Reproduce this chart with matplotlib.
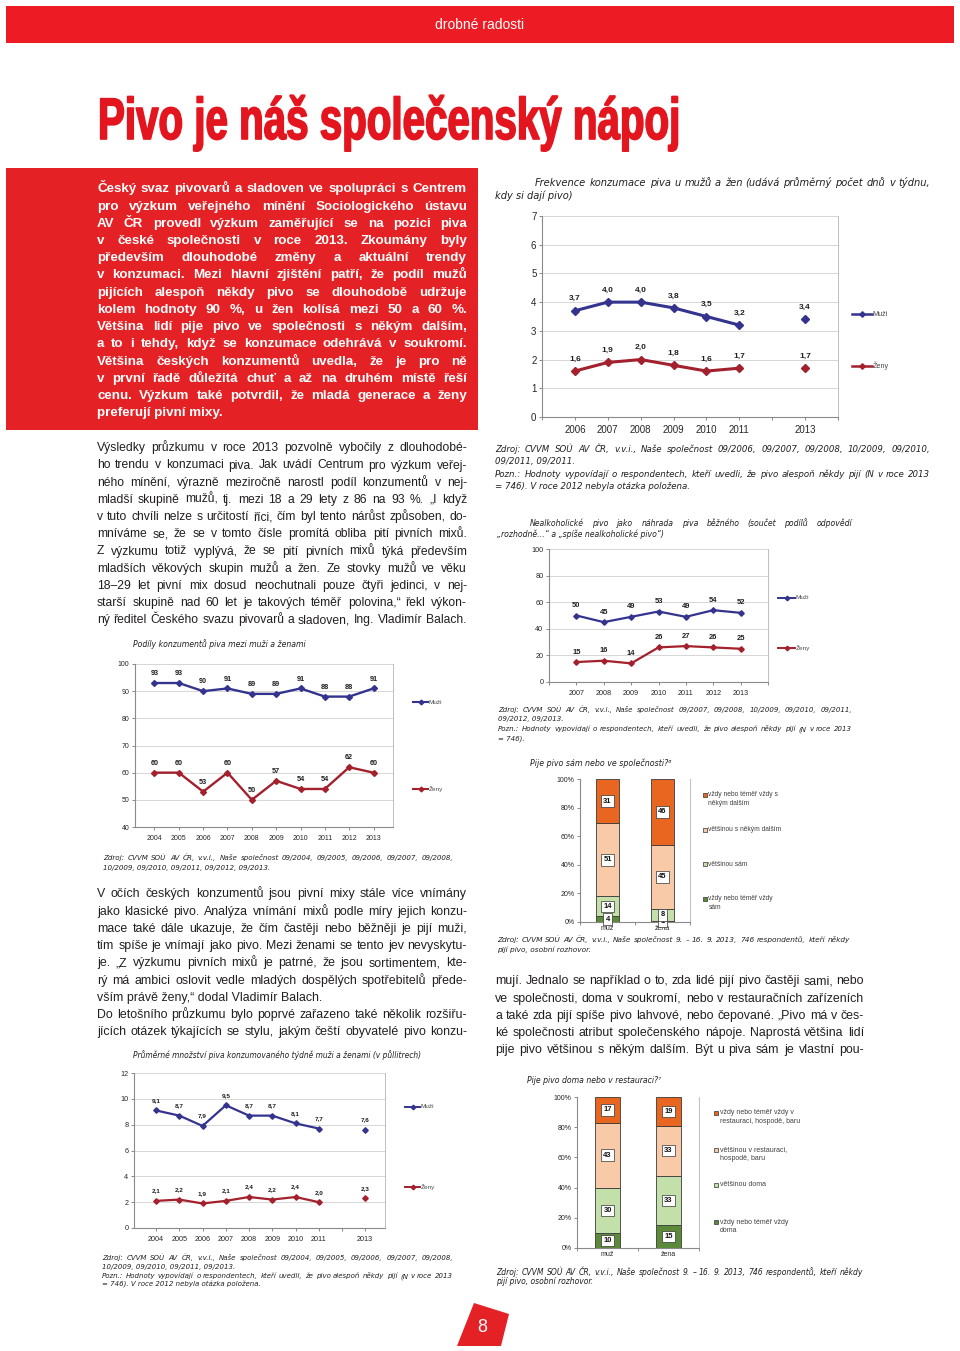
import numpy as np
import matplotlib
matplotlib.use('Agg')
import matplotlib.pyplot as plt
import matplotlib.patheffects as pe
from matplotlib.transforms import Affine2D
from matplotlib.lines import Line2D
from matplotlib.patches import Rectangle, Polygon
from matplotlib.font_manager import FontProperties, fontManager

# ---------------- DATA ----------------
freq_years = [2006, 2007, 2008, 2009, 2010, 2011, 2013]
freq_men = [3.7, 4.0, 4.0, 3.8, 3.5, 3.2, 3.4]
freq_women = [1.6, 1.9, 2.0, 1.8, 1.6, 1.7, 1.7]

share_years = [2004, 2005, 2006, 2007, 2008, 2009, 2010, 2011, 2012, 2013]
share_men = [93, 93, 90, 91, 89, 89, 91, 88, 88, 91]
share_women = [60, 60, 53, 60, 50, 57, 54, 54, 62, 60]

nonalc_years = [2007, 2008, 2009, 2010, 2011, 2012, 2013]
nonalc_men = [50, 45, 49, 53, 49, 54, 52]
nonalc_women = [15, 16, 14, 26, 27, 26, 25]

amount_years = [2004, 2005, 2006, 2007, 2008, 2009, 2010, 2011, 2013]
amount_men = [9.1, 8.7, 7.9, 9.5, 8.7, 8.7, 8.1, 7.7, 7.6]
amount_women = [2.1, 2.2, 1.9, 2.1, 2.4, 2.2, 2.4, 2.0, 2.3]

series_names = ['Muži', 'Ženy']
gender_labels = ['muž', 'žena']

company_names = ['vždy nebo téměř vždy\nsám', 'většinou sám',
                 'většinou s někým dalším', 'vždy nebo téměř vždy s\nněkým dalším']
company_always_alone = [4, 1]
company_mostly_alone = [14, 8]
company_mostly_others = [51, 45]
company_always_others = [31, 46]

place_names = ['vždy nebo téměř vždy\ndoma', 'většinou doma',
               'většinou v restauraci,\nhospodě, baru',
               'vždy nebo téměř vždy v\nrestauraci, hospodě, baru']
place_always_home = [10, 15]
place_mostly_home = [30, 33]
place_mostly_pub = [43, 33]
place_always_pub = [17, 19]

# ---------------- STYLE ----------------
W, H = 960, 1351
avail = {f.name for f in fontManager.ttflist}


def pick(*names):
    for n in names:
        if n in avail:
            return n
    return 'DejaVu Sans'


SANS = pick('Liberation Sans', 'Arimo', 'DejaVu Sans')
BODY = SANS
HEAD = pick('Liberation Sans Narrow', 'Liberation Sans')
VERD = 'DejaVu Sans'
plt.rcParams['font.family'] = [SANS, 'DejaVu Sans']

RED = '#E42125'
INK = '#231F20'
C_MEN = '#34348F'
C_WOMEN = '#A3202D'
AXC = '#8A8A8A'
GRID = '#D6D6D6'
ORANGE = '#E8661F'
PEACH = '#F9CAA7'
LGREEN = '#C3DFAA'
DGREEN = '#5B8B39'

fig = plt.figure(figsize=(W / 100, H / 100), dpi=100)
fig.patch.set_facecolor('white')
renderer = fig.canvas.get_renderer()


def T(x, y, s, **kw):
    return fig.text(x / W, 1 - y / H, s, **kw)


def measure(s, fp):
    w, h, d = renderer.get_text_width_height_descent(s, fp, ismath=False)
    return w


def block(lines, x0, x1, y0, dy, family, size, weight='normal', style='normal',
          color=INK, just=None, starts=None):
    fp = FontProperties(family=family, size=size, weight=weight, style=style)
    if just is None:
        just = [True] * (len(lines) - 1) + [False]
    if starts is None:
        starts = [x0] * len(lines)
    jw = [measure(l, fp) / (x1 - s) for l, j, s in zip(lines, just, starts) if j]
    if jw and max(jw) > 0.99:
        fp.set_size(size * 0.99 / max(jw))
    for i, (line, j, xs) in enumerate(zip(lines, just, starts)):
        y = y0 + i * dy
        words = [w for w in line.split(' ') if w]
        if not j or len(words) < 2:
            T(xs, y, line, fontproperties=fp, color=color, ha='left', va='baseline')
            continue
        ws = [measure(w, fp) for w in words]
        gap = (x1 - xs - sum(ws)) / (len(words) - 1)
        x = xs
        for w, ww in zip(words, ws):
            T(x, y, w, fontproperties=fp, color=color, ha='left', va='baseline')
            x += ww + gap


class Squeeze(pe.AbstractPathEffect):
    def __init__(self, sx, sy, x0, y0, lw=0.0):
        super().__init__()
        self.sx, self.sy, self.x0, self.y0, self.lw = sx, sy, x0, y0, lw

    def draw_path(self, renderer, gc, tpath, affine, rgbFace=None):
        t = affine + Affine2D().translate(-self.x0, -self.y0).scale(self.sx, self.sy).translate(self.x0, self.y0)
        gc0 = renderer.new_gc()
        gc0.copy_properties(gc)
        if self.lw and rgbFace is not None:
            gc0.set_linewidth(self.lw)
            gc0.set_foreground(rgbFace)
        renderer.draw_path(gc0, tpath, t, rgbFace)
        gc0.restore()


def add_ax(x0, y0, x1, y1):
    return fig.add_axes([x0 / W, 1 - y1 / H, (x1 - x0) / W, (y1 - y0) / H])


def style_axes(ax, fs):
    for s in ('left', 'bottom'):
        ax.spines[s].set_color(AXC)
        ax.spines[s].set_linewidth(0.8)
    ax.spines['right'].set_color('#BDBDBD')
    ax.spines['right'].set_linewidth(0.7)
    ax.spines['top'].set_visible(False)
    ax.tick_params(axis='both', which='both', colors=AXC, labelcolor='#262626',
                   labelsize=fs, length=2.5, width=0.7, pad=1.5, direction='out')
    ax.set_facecolor('white')


def line_chart(box, years, men, women, xlim, ylim, ystep, fmt, lw, ms, off,
               fs_tick, fs_lab):
    ax = add_ax(*box)
    for vals, col in ((men, C_MEN), (women, C_WOMEN)):
        xs = np.array(years, float)
        vs = np.array(vals, float)
        breaks = np.where(np.diff(xs) > 1)[0] + 1
        for sx, sv in zip(np.split(xs, breaks), np.split(vs, breaks)):
            ax.plot(sx, sv, color=col, lw=lw, marker='D', ms=ms, mfc=col, mec=col,
                    solid_joinstyle='round', clip_on=False, zorder=3)
        for x, v in zip(xs, vs):
            ax.annotate(fmt(v), (x, v), xytext=(0, off), textcoords='offset points',
                        ha='center', va='center', fontsize=fs_lab, fontweight='bold',
                        color='#1F1F1F')
    ax.set_xlim(*xlim)
    ax.set_ylim(*ylim)
    ax.set_yticks(np.arange(ylim[0], ylim[1] + ystep / 2, ystep))
    ax.set_xticks(years)
    ax.set_xticklabels([str(y) for y in years])
    minor = [y for y in range(int(np.ceil(xlim[0])), int(np.floor(xlim[1])) + 1)
             if y not in years]
    ax.set_xticks(minor, minor=True)
    ax.grid(axis='y', color=GRID, lw=0.7)
    ax.set_axisbelow(True)
    style_axes(ax, fs_tick)
    ax.tick_params(axis='x', pad=3)
    return ax


def line_swatch(x0, x1, y, col, lw, ms, label, fs):
    xm = (x0 + x1) / 2
    ln = Line2D([x0 / W, xm / W, x1 / W], [1 - y / H] * 3, transform=fig.transFigure,
                color=col, lw=lw, marker='D', ms=ms, mfc=col, mec=col, markevery=[1])
    fig.add_artist(ln)
    T(x1 + 0.5, y, label, fontsize=fs, color='#4A4A4A', ha='left', va='center')


def bar_chart(box, cats, series, colors, width, fs_tick, fs_lab):
    ax = add_ax(*box)
    x = np.arange(len(cats))
    bottom = np.zeros(len(cats))
    for vals, col in zip(series, colors):
        vals = np.array(vals, float)
        ax.bar(x, vals, width, bottom=bottom, color=col, edgecolor='#3A3A3A', lw=0.6,
               zorder=2)
        for xi, b, v in zip(x, bottom, vals):
            ax.text(xi, b + v / 2, f'{v:.0f}', ha='center', va='center', fontsize=fs_lab,
                    fontweight='bold', color='#111111', zorder=4,
                    bbox=dict(boxstyle='square,pad=0.3', fc='white', ec='#333333', lw=0.5))
        bottom += vals
    ax.set_xlim(-0.5, len(cats) - 0.5)
    ax.set_ylim(0, 100)
    ax.set_yticks(range(0, 101, 20))
    ax.set_yticklabels([f'{v}%' for v in range(0, 101, 20)])
    ax.set_xticks(x)
    ax.set_xticklabels(cats)
    ax.set_xticks(np.arange(-0.5, len(cats), 1.0), minor=True)
    style_axes(ax, fs_tick)
    ax.tick_params(axis='x', which='major', length=0, pad=2)
    return ax


def bar_legend(x_sq, entries, fs, dy):
    for col, name, y in entries:
        fig.add_artist(Rectangle((x_sq / W, 1 - (y + 2.2) / H), 4.4 / W, 4.4 / H,
                                 transform=fig.transFigure, fc=col, ec='#333333', lw=0.5))
        for i, l in enumerate(name.split('\n')):
            T(x_sq + 5.5, y + i * dy, l, fontsize=fs, color='#404040', ha='left', va='center')


# ---------------- PAGE FURNITURE ----------------
fig.add_artist(Rectangle((6 / W, 1 - 43 / H), 948 / W, 37 / H, transform=fig.transFigure,
                         fc='#ED1C24', ec='none'))
T(480, 25, 'drobné radosti', fontsize=10, color='white', ha='center', va='center')

title = 'Pivo je náš společenský nápoj'
title_fp = FontProperties(family=HEAD, weight='bold', size=30)
tt = T(98, 139, title, fontproperties=title_fp, color='#E3151E', ha='left', va='baseline')
nat = measure(title, title_fp)
cap_px = 30 * 100 / 72 * 0.716
tt.set_path_effects([Squeeze(582 / nat, 42 / cap_px, 98, H - 139, lw=1.2)])

fig.add_artist(Rectangle((6 / W, 1 - 430 / H), 472 / W, 262 / H, transform=fig.transFigure,
                         fc=RED, ec='none'))

red_lines = [
    'Český svaz pivovarů a sladoven ve spolupráci s Centrem',
    'pro výzkum veřejného mínění Sociologického ústavu',
    'AV ČR provedl výzkum zaměřující se na pozici piva',
    'v české společnosti v roce 2013. Zkoumány byly',
    'především dlouhodobé změny a aktuální trendy',
    'v konzumaci. Mezi hlavní zjištění patří, že podíl mužů',
    'pijících alespoň někdy pivo se dlouhodobě udržuje',
    'kolem hodnoty 90 %, u žen kolísá mezi 50 a 60 %.',
    'Většina lidí pije pivo ve společnosti s někým dalším,',
    'a to i tehdy, když se konzumace odehrává v soukromí.',
    'Většina českých konzumentů uvedla, že je pro ně',
    'v první řadě důležitá chuť a až na druhém místě řeší',
    'cenu. Výzkum také potvrdil, že mladá generace a ženy',
    'preferují pivní mixy.',
]
block(red_lines, 97, 467, 192.3, 17.23, SANS, 10.5, weight='bold', color='white')

para1 = [
    'Výsledky průzkumu v roce 2013 pozvolně vybočily z dlouhodobé-',
    'ho trendu v konzumaci piva. Jak uvádí Centrum pro výzkum veřej-',
    'ného mínění, výrazně meziročně narostl podíl konzumentů v nej-',
    'mladší skupině mužů, tj. mezi 18 a 29 lety z 86 na 93 %. „I když',
    'v tuto chvíli nelze s určitostí říci, čím byl tento nárůst způsoben, do-',
    'mníváme se, že se v tomto čísle promítá obliba pití pivních mixů.',
    'Z výzkumu totiž vyplývá, že se pití pivních mixů týká především',
    'mladších věkových skupin mužů a žen. Ze stovky mužů ve věku',
    '18–29 let pivní mix dosud neochutnali pouze čtyři jedinci, v nej-',
    'starší skupině nad 60 let je takových téměř polovina,“ řekl výkon-',
    'ný ředitel Českého svazu pivovarů a sladoven, Ing. Vladimír Balach.',
]
block(para1, 97, 467, 451.3, 17.2, BODY, 10.0, just=[True] * 11)

para2 = [
    'V očích českých konzumentů jsou pivní mixy stále více vnímány',
    'jako klasické pivo. Analýza vnímání mixů podle míry jejich konzu-',
    'mace také dále ukazuje, že čím častěji nebo běžněji je pijí muži,',
    'tím spíše je vnímají jako pivo. Mezi ženami se tento jev nevyskytu-',
    'je. „Z výzkumu pivních mixů je patrné, že jsou sortimentem, kte-',
    'rý má ambici oslovit vedle mladých dospělých spotřebitelů přede-',
    'vším právě ženy,“ dodal Vladimír Balach.',
    'Do letošního průzkumu bylo poprvé zařazeno také několik rozšiřu-',
    'jících otázek týkajících se stylu, jakým čeští obyvatelé pivo konzu-',
]
block(para2, 97, 467, 897.3, 17.25, BODY, 10.0,
      just=[True] * 6 + [False] + [True, True])

para3 = [
    'mují. Jednalo se například o to, zda lidé pijí pivo častěji sami, nebo',
    've společnosti, doma v soukromí, nebo v restauračních zařízeních',
    'a také zda pijí spíše pivo lahvové, nebo čepované. „Pivo má v čes-',
    'ké společnosti atribut společenského nápoje. Naprostá většina lidí',
    'pije pivo většinou s někým dalším. Být u piva sám je vlastní pou-',
]
block(para3, 495, 864, 984.3, 17.25, BODY, 10.0, just=[True] * 5)

# page number
poly = np.array([(474, 1303), (509, 1314), (501, 1346), (457, 1346)], float)
fig.add_artist(Polygon(np.c_[poly[:, 0] / W, 1 - poly[:, 1] / H], closed=True,
                       transform=fig.transFigure, fc=RED, ec='none'))
T(482, 1327, '8', fontsize=13, color='white', ha='center', va='center')

# ---------------- CHART 1: frekvence ----------------
block(['Frekvence konzumace piva u mužů a žen (udává průměrný počet dnů v týdnu,',
       'kdy si dají pivo)'],
      495, 930, 186, 13, VERD, 7.5, style='italic', just=[True, False], starts=[535, 495])
line_chart((542, 216, 838, 417), freq_years, freq_men, freq_women, (2005, 2014), (0, 7), 1,
           lambda v: f'{v:.1f}'.replace('.', ','), 2.2, 3.6, 8.6, 7.0, 6.0)
line_swatch(852, 872, 314, C_MEN, 1.8, 2.8, series_names[0], 5.2)
line_swatch(852, 872, 366, C_WOMEN, 1.8, 2.8, series_names[1], 5.2)
block(['Zdroj: CVVM SOÚ AV ČR, v.v.i., Naše společnost 09/2006, 09/2007, 09/2008, 10/2009, 09/2010,',
       '09/2011, 09/2011.',
       'Pozn.: Hodnoty vypovídají o respondentech, kteří uvedli, že pivo alespoň někdy pijí (N v roce 2013',
       '= 746). V roce 2012 nebyla otázka položena.'],
      495, 930, 452, 12.3, VERD, 7.0, style='italic', just=[True, False, True, False])

# ---------------- CHART 2: podíly ----------------
T(133, 647.5, 'Podíly konzumentů piva mezi muži a ženami', fontsize=5.55, style='italic',
  family=VERD, color=INK, va='baseline')
line_chart((135, 664, 393, 827), share_years, share_men, share_women, (2003.2, 2013.8),
           (40, 100), 10, lambda v: f'{v:.0f}', 1.7, 3.0, 6.7, 5.0, 5.2)
line_swatch(413, 428, 702, C_MEN, 1.5, 2.4, series_names[0], 4.6)
line_swatch(413, 428, 789, C_WOMEN, 1.5, 2.4, series_names[1], 4.6)
block(['Zdroj: CVVM SOÚ AV ČR, v.v.i., Naše společnost 09/2004, 09/2005, 09/2006, 09/2007, 09/2008,',
       '10/2009, 09/2010, 09/2011, 09/2012, 09/2013.'],
      103, 453, 860, 10, VERD, 6.0, style='italic', just=[True, False])

# ---------------- CHART 3: nealko ----------------
block(['Nealkoholické pivo jako náhrada piva běžného (součet podílů odpovědí',
       '„rozhodně…“ a „spíše nealkoholické pivo“)'],
      497, 852, 526, 11, VERD, 5.6, style='italic', just=[True, False], starts=[530, 497])
line_chart((549, 549, 768, 682), nonalc_years, nonalc_men, nonalc_women, (2006, 2014),
           (0, 100), 20, lambda v: f'{v:.0f}', 1.6, 2.8, 7.2, 5.2, 5.4)
line_swatch(778, 795, 598, C_MEN, 1.4, 2.3, series_names[0], 4.6)
line_swatch(778, 795, 648, C_WOMEN, 1.4, 2.3, series_names[1], 4.6)
block(['Zdroj: CVVM SOÚ AV ČR, v.v.i., Naše společnost 09/2007, 09/2008, 10/2009, 09/2010, 09/2011,',
       '09/2012, 09/2013.',
       'Pozn.: Hodnoty vypovídají o respondentech, kteří uvedli, že pivo alespoň někdy pijí (N v roce 2013',
       '= 746).'],
      498, 852, 712, 9.5, VERD, 6.0, style='italic', just=[True, False, True, False])

# ---------------- CHART 4: sám / ve společnosti ----------------
T(530, 766, 'Pije pivo sám nebo ve společnosti?⁶', fontsize=5.7, style='italic',
  family=VERD, color=INK, va='baseline')
bar_chart((580, 779, 690, 922), gender_labels,
          [company_always_alone, company_mostly_alone, company_mostly_others, company_always_others],
          [DGREEN, LGREEN, PEACH, ORANGE], 0.41, 5.0, 5.4)
bar_legend(703, [(ORANGE, company_names[3], 795), (PEACH, company_names[2], 830),
                 (LGREEN, company_names[1], 864), (DGREEN, company_names[0], 899)], 4.8, 8.3)
block(['Zdroj: CVVM SOÚ AV ČR, v.v.i., Naše společnost 9. – 16. 9. 2013, 746 respondentů, kteří někdy',
       'pijí pivo, osobní rozhovor.'],
      497, 850, 942, 9.6, VERD, 6.0, style='italic', just=[True, False])

# ---------------- CHART 5: množství ----------------
T(133, 1058.5, 'Průměrné množství piva konzumovaného týdně muži a ženami (v půllitrech)',
  fontsize=5.45, style='italic', family=VERD, color=INK, va='baseline')
line_chart((134, 1073, 385, 1228), amount_years, amount_men, amount_women, (2003.05, 2013.85),
           (0, 12), 2, lambda v: f'{v:.1f}'.replace('.', ','), 1.6, 2.8, 7.2, 5.2, 4.6)
line_swatch(405, 420, 1107, C_MEN, 1.4, 2.3, series_names[0], 4.6)
line_swatch(405, 420, 1187, C_WOMEN, 1.4, 2.3, series_names[1], 4.6)
block(['Zdroj: CVVM SOÚ AV ČR, v.v.i., Naše společnost 09/2004, 09/2005, 09/2006, 09/2007, 09/2008,',
       '10/2009, 09/2010, 09/2011, 09/2013.',
       'Pozn.: Hodnoty vypovídají o respondentech, kteří uvedli, že pivo alespoň někdy pijí (N v roce 2013',
       '= 746). V roce 2012 nebyla otázka položena.'],
      102, 453, 1260, 9.0, VERD, 6.0, style='italic', just=[True, False, True, False])

# ---------------- CHART 6: doma / restaurace ----------------
T(527, 1083, 'Pije pivo doma nebo v restauraci?⁷', fontsize=5.6, style='italic',
  family=VERD, color=INK, va='baseline')
bar_chart((577, 1097, 699, 1248), gender_labels,
          [place_always_home, place_mostly_home, place_mostly_pub, place_always_pub],
          [DGREEN, LGREEN, PEACH, ORANGE], 0.41, 5.0, 5.4)
bar_legend(714, [(ORANGE, place_names[3], 1113), (PEACH, place_names[2], 1150),
                 (LGREEN, place_names[1], 1185), (DGREEN, place_names[0], 1222)], 5.0, 8.8)
block(['Zdroj: CVVM SOÚ AV ČR, v.v.i., Naše společnost 9. – 16. 9. 2013, 746 respondentů, kteří někdy',
       'pijí pivo, osobní rozhovor.'],
      496, 863, 1275, 9.3, VERD, 6.0, style='italic', just=[True, False])

fig.savefig('out.png', dpi=100, facecolor='white')
